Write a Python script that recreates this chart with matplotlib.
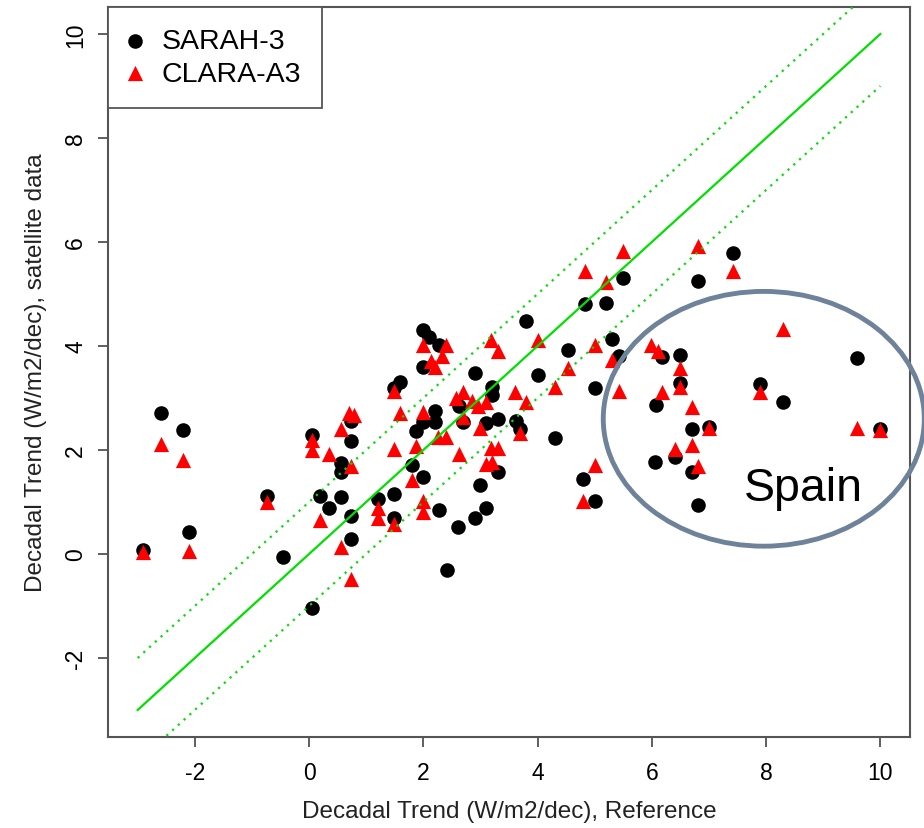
# Decadal trend scatter: satellite data vs reference stations
import matplotlib
matplotlib.use('Agg')
import matplotlib.pyplot as plt
from matplotlib.patches import Ellipse
import numpy as np

fam = ['Liberation Sans', 'DejaVu Sans']

# SARAH-3 (black circles): reference trend, satellite trend
sarah_x = [-2.9, -2.6, -2.2, -2.1, -0.74, -0.45, 0.05, 0.2, 0.35, 0.05, 0.56, 0.56, 0.56,
           0.74, 0.74, 0.74, 0.74, 1.2, 1.49, 1.48, 1.6, 1.48, 1.81, 1.88,
           2.0, 2.1, 2.28, 2.0, 2.9, 3.8, 4.0, 4.53, 4.3, 4.83, 5.2, 5.5, 5.3, 5.43,
           5.0, 4.8, 5.0, 6.05, 6.08, 2.2, 2.2, 2.0, 2.0, 2.28, 2.6, 2.9, 3.1, 2.41,
           3.0, 3.3, 2.7, 3.1, 3.3, 2.62, 3.2, 3.2, 3.62, 3.7,
           7.43, 6.8, 6.17, 6.5, 6.5, 7.9, 8.3, 9.6, 10.0, 6.7, 7.0, 6.4, 6.7, 6.8]
sarah_y = [0.08, 2.71, 2.38, 0.42, 1.11, -0.06, 2.29, 1.12, 0.88, -1.04, 1.1, 1.75, 1.58,
           2.17, 2.56, 0.73, 0.29, 1.06, 1.15, 0.69, 3.3, 3.2, 1.71, 2.37,
           4.31, 4.17, 4.02, 3.6, 3.48, 4.48, 3.44, 3.92, 2.23, 4.81, 4.83, 5.31, 4.13, 3.81,
           3.19, 1.44, 1.02, 1.77, 2.87, 2.75, 2.54, 2.54, 1.48, 0.85, 0.52, 0.69, 0.88, -0.31,
           1.33, 1.58, 2.54, 2.52, 2.6, 2.85, 3.21, 3.06, 2.56, 2.4,
           5.79, 5.25, 3.79, 3.83, 3.29, 3.27, 2.92, 3.77, 2.4, 2.4, 2.44, 1.87, 1.58, 0.94]

# CLARA-A3 (red triangles)
clara_x = [-2.9, -2.6, -2.2, -2.1, -0.74, 0.05, 0.05, 0.35, 0.2, 0.74, 0.7, 0.78, 0.56,
           0.56, 0.74, 1.2, 1.2, 1.48, 1.48, 1.6, 1.49, 1.81, 1.88,
           2.0, 2.4, 2.13, 2.32, 2.2, 3.18, 3.3, 4.0, 3.6, 3.8, 4.53, 4.3, 4.83, 5.2,
           5.5, 5.0, 5.3, 5.43, 5.0, 4.8, 2.0, 2.0, 2.0, 3.1, 3.2, 3.18, 3.3, 2.62,
           2.25, 2.4, 2.7, 3.0, 2.57, 2.7, 2.86, 2.95, 3.1, 3.7,
           6.8, 7.43, 8.3, 5.98, 6.1, 6.5, 6.5, 6.17, 6.71, 7.9, 9.6, 10.0, 7.0,
           6.4, 6.7, 6.8]
clara_y = [0.04, 2.12, 1.81, 0.06, 1.0, 2.2, 2.0, 1.92, 0.65, 1.7, 2.72, 2.68, 2.4,
           0.13, -0.48, 0.88, 0.69, 0.58, 3.13, 2.71, 2.02, 1.42, 2.08,
           4.02, 4.02, 3.71, 3.81, 3.6, 4.11, 3.9, 4.11, 3.12, 2.92, 3.58, 3.21, 5.44, 5.23,
           5.83, 4.02, 3.73, 3.13, 1.71, 1.02, 2.73, 1.02, 0.81, 1.73, 1.77, 2.04, 2.04, 1.92,
           2.25, 2.25, 2.63, 2.42, 3.0, 3.12, 2.94, 2.85, 2.92, 2.33,
           5.92, 5.44, 4.33, 4.02, 3.9, 3.58, 3.21, 3.12, 2.83, 3.12, 2.42, 2.38, 2.42,
           2.02, 2.1, 1.69]

line_x = [-3, 10]
ticks = [-2, 0, 2, 4, 6, 8, 10]

fig = plt.figure(figsize=(9.24, 8.29), dpi=100)
ax = fig.add_axes([108/924, 1-738/829, (910-108)/924, (738-8)/829])

ax.scatter(sarah_x, sarah_y, s=110, c='black', marker='o', linewidths=0, label='SARAH-3', zorder=2)
ax.scatter(clara_x, clara_y, s=120, c='red', marker='^', linewidths=0, label='CLARA-A3', zorder=3)

lx = np.array(line_x)
ax.plot(lx, lx, color='#00e000', lw=1.6, zorder=4)
ax.plot(lx, lx + 1, color='#00e000', lw=1.6, ls=(0, (1, 2.5)), zorder=4)
ax.plot(lx, lx - 1, color='#00e000', lw=1.6, ls=(0, (1, 2.5)), zorder=4)

ax.set_xlim(-3.52, 10.52)
ax.set_ylim(-3.52, 10.52)
ax.set_xticks(ticks)
ax.set_yticks(ticks)
ax.set_xticklabels([str(t) for t in ticks], family=fam, fontsize=16.5)
ax.set_yticklabels([str(t) for t in ticks], family=fam, fontsize=16.5, rotation=90, va='center')
ax.tick_params(length=7, width=1.2, color='#444444')
ax.tick_params(axis='x', pad=10)
ax.tick_params(axis='y', pad=8)
for s in ax.spines.values():
    s.set_color('#555555')
    s.set_linewidth(1.5)

ax.set_xlabel('Decadal Trend (W/m2/dec), Reference', family=fam, fontsize=17.5, color='#222222', labelpad=12)
ax.set_ylabel('Decadal Trend (W/m2/dec), satellite data', family=fam, fontsize=17.5, color='#222222', labelpad=12)

leg = ax.legend(loc='upper left', borderaxespad=0, fancybox=False, edgecolor='#555555',
                framealpha=1, prop={'family': 'Liberation Sans', 'size': 20.5},
                handletextpad=0.72, borderpad=0.75, labelspacing=0.22, handlelength=0.4,
                markerscale=1.0)
leg.get_frame().set_linewidth(1.3)

# Spain annotation
ell = Ellipse((7.96, 2.6), 5.62, 4.9, fill=False, edgecolor='#6e8299', lw=3.5, clip_on=False, zorder=5)
ax.add_patch(ell)
ax.text(8.66, 1.27, 'Spain', fontsize=33.5, family='Liberation Sans', ha='center', va='center', zorder=6)

fig.savefig('out.png', dpi=100)
